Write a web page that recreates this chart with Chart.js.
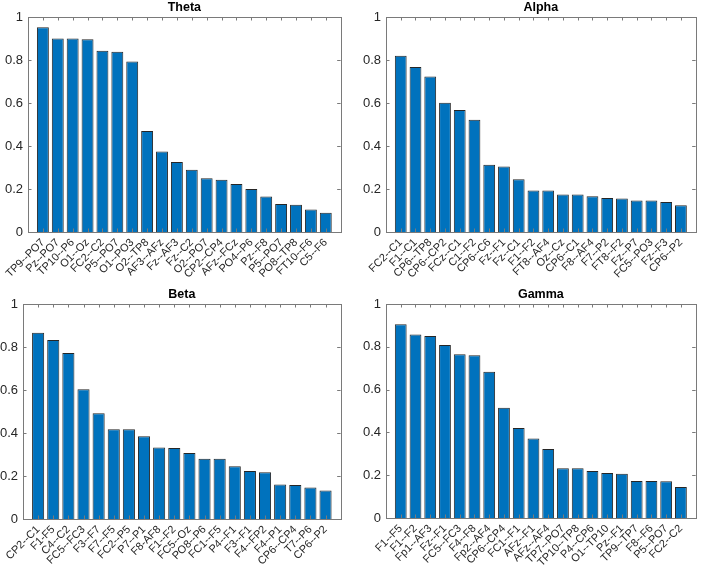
<!DOCTYPE html>
<html>
<head>
<meta charset="utf-8">
<script src="https://cdn.jsdelivr.net/npm/chart.js@4.4.1/dist/chart.umd.min.js"></script>
<style>
  html, body { margin: 0; padding: 0; background: #ffffff; }
  body { width: 709px; height: 570px; position: relative; overflow: hidden; }
  .panel { position: absolute; }
</style>
</head>
<body>
<div class="panel" style="left:0px;top:0px;width:354px;height:285px;"><canvas id="c1"></canvas></div>
<div class="panel" style="left:355px;top:0px;width:354px;height:285px;"><canvas id="c2"></canvas></div>
<div class="panel" style="left:0px;top:287px;width:354px;height:283px;"><canvas id="c3"></canvas></div>
<div class="panel" style="left:355px;top:287px;width:354px;height:283px;"><canvas id="c4"></canvas></div>
<script>
// ---------- DATA ----------
const thetaLabels = ["TP9--PO7","Pz--PO7","TP10--P6","O1--Oz","FC2--C2","P5--PO7","O1--PO3","O2--TP8","AF3--AFz","Fz--AF3","Fz--C2","O2--PO7","CP2--CP4","AFz--FCz","PO4--P6","Pz--F8","P5--PO7","PO8--TP8","FT10--F6","C5--F6"];
const thetaValues = [0.952,0.900,0.900,0.897,0.843,0.838,0.793,0.470,0.375,0.326,0.290,0.250,0.243,0.223,0.200,0.165,0.130,0.127,0.105,0.090];

const alphaLabels = ["FC2--C1","F1--C1","CP6--TP8","CP6--CP2","FCz--C1","C1--F2","CP6--C6","Fz--F1","Fz--C1","F1--F2","FT8--AF4","Oz--Cz","CP6--C1","F8--AF4","F7--P2","FT8--F2","Fz--P7","FC5--PO3","Fz--F3","CP6--P2"];
const alphaValues = [0.820,0.768,0.723,0.601,0.568,0.522,0.313,0.305,0.245,0.193,0.193,0.175,0.175,0.166,0.158,0.156,0.146,0.146,0.140,0.125];

const betaLabels = ["CP2--C1","F1-F5","C4--C2","FC5--FC3","F3--F7","F7--F5","FC2--P5","P7--P1","F8-AF8","F1--F2","FC5--Oz","PO8--P6","FC1--F5","P4--F1","F3--F1","F4--FP2","F4--P1","CP6--CP4","T7--P6","CP6--P2"];
const betaValues = [0.866,0.832,0.772,0.603,0.492,0.418,0.418,0.385,0.332,0.330,0.307,0.280,0.280,0.245,0.223,0.217,0.160,0.158,0.147,0.133];

const gammaLabels = ["F1--F5","F1--F2","Fp1--AF3","Fz--F1","FC5--FC3","F4--F8","Fp2--AF4","CP6--CP4","FC1--F1","AFz--F1","AFz--AF4","TP7--PO7","TP10--TP8","P4--CP6","O1--TP10","Pz--F1","TP9--TP7","F8--F6","P5--PO7","FC2--C2"];
const gammaValues = [0.905,0.858,0.850,0.808,0.765,0.760,0.683,0.515,0.420,0.372,0.323,0.233,0.232,0.220,0.210,0.207,0.173,0.173,0.172,0.145];

const yTicks = [0, 0.2, 0.4, 0.6, 0.8, 1];

// ---------- STYLE ----------
const FONT = "'Liberation Sans', Arial, Helvetica, sans-serif";
const TXT = '#262626';
const BOX = '#7a7a7a';
const BAR = '#0072BD';

const boxPlugin = {
  id: 'matlabBox',
  afterDatasetsDraw(chart) {
    const ctx = chart.ctx;
    const a = chart.chartArea;
    const xs = chart.scales.x, ys = chart.scales.y;
    const n = chart.data.datasets[0].data.length;
    ctx.save();
    ctx.strokeStyle = BOX;
    ctx.lineWidth = 1;
    ctx.beginPath();
    const L = 3.5;
    for (let i = 1; i <= n; i++) {
      const px = Math.round(xs.getPixelForValue(i)) + 0.5;
      ctx.moveTo(px, a.bottom); ctx.lineTo(px, a.bottom - L);
      ctx.moveTo(px, a.top); ctx.lineTo(px, a.top + L);
    }
    yTicks.forEach(v => {
      const py = Math.round(ys.getPixelForValue(v)) + 0.5;
      ctx.moveTo(a.left, py); ctx.lineTo(a.left + L, py);
      ctx.moveTo(a.right, py); ctx.lineTo(a.right - L, py);
    });
    ctx.stroke();
    ctx.strokeRect(Math.round(a.left) + 0.5, Math.round(a.top) + 0.5,
                   Math.round(a.right - a.left), Math.round(a.bottom - a.top));
    ctx.restore();
  }
};

function makeChart(id, title, labels, values, yWidth, padRight, xHeight) {
  const pts = values.map((v, i) => ({ x: i + 1, y: v }));
  return new Chart(document.getElementById(id), {
    type: 'bar',
    data: {
      datasets: [{
        data: pts,
        backgroundColor: BAR,
        borderColor: '#262626',
        borderWidth: 1,
        barPercentage: 0.8,
        categoryPercentage: 1.0
      }]
    },
    options: {
      responsive: true,
      maintainAspectRatio: false,
      animation: false,
      layout: { padding: { left: 0, right: padRight, top: 0, bottom: 0 } },
      plugins: {
        legend: { display: false },
        tooltip: { enabled: false },
        title: {
          display: true,
          text: title,
          fullSize: false,
          color: '#000000',
          font: { family: FONT, size: 12.5, weight: 'bold' },
          padding: { top: 0, bottom: 2 }
        }
      },
      scales: {
        x: {
          type: 'linear',
          min: 0,
          max: labels.length + 1,
          offset: false,
          grid: { display: false, drawTicks: false, tickLength: 0 },
          border: { display: false },
          afterFit(s) { s.height = xHeight; },
          afterBuildTicks(s) {
            const t = [];
            for (let i = 0; i <= labels.length + 1; i++) t.push({ value: i });
            s.ticks = t;
          },
          ticks: {
            autoSkip: false,
            maxRotation: 45,
            minRotation: 45,
            padding: 4,
            color: TXT,
            font: { family: FONT, size: 11 },
            callback: (v) => (v >= 1 && v <= labels.length) ? labels[v - 1] : ''
          }
        },
        y: {
          min: 0,
          max: 1,
          grid: { display: false, drawTicks: false, tickLength: 0 },
          border: { display: false },
          afterFit(s) { s.width = yWidth; },
          afterBuildTicks(s) { s.ticks = yTicks.map(v => ({ value: v })); },
          ticks: {
            color: TXT,
            padding: 5,
            font: { family: FONT, size: 13 },
            callback: (v) => String(+v.toFixed(1))
          }
        }
      }
    },
    plugins: [boxPlugin]
  });
}

makeChart('c1', 'Theta', thetaLabels, thetaValues, 28, 6, 53);
makeChart('c2', 'Alpha', alphaLabels, alphaValues, 31, 6, 53);
makeChart('c3', 'Beta',  betaLabels,  betaValues,  23, 11, 51);
makeChart('c4', 'Gamma', gammaLabels, gammaValues, 31, 12, 52);
</script>
</body>
</html>
